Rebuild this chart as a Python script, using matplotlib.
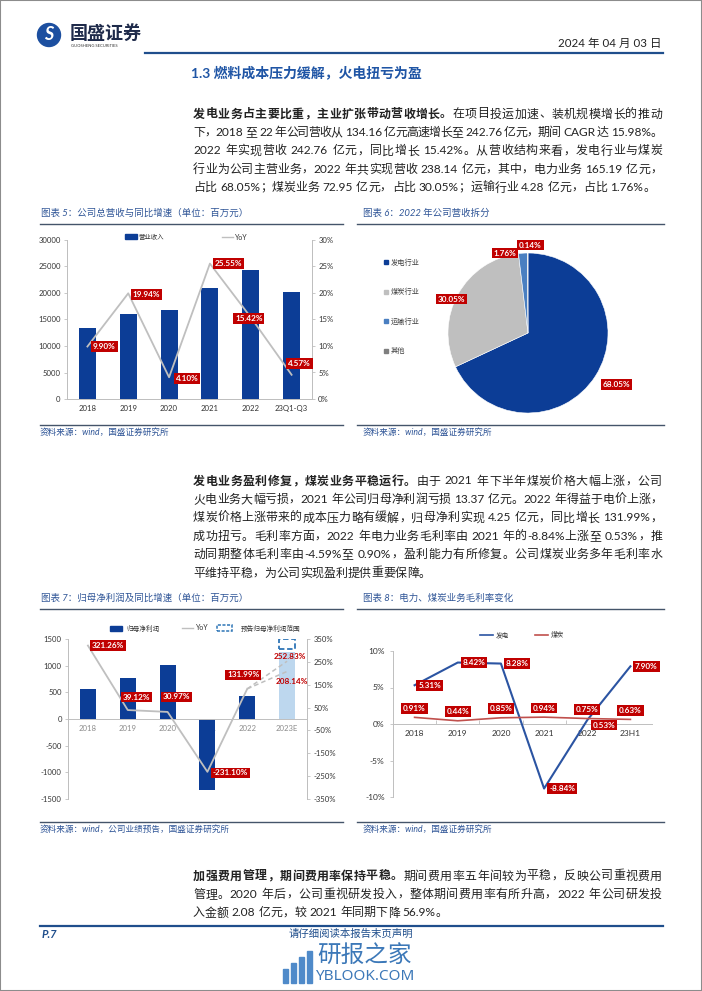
import re
import matplotlib
matplotlib.use('Agg')
import matplotlib.pyplot as plt
from matplotlib.patches import Rectangle, Circle
from matplotlib.lines import Line2D
from matplotlib.transforms import IdentityTransform

plt.rcParams['font.family'] = ['Lato', 'Noto Sans CJK SC', 'DejaVu Sans']
plt.rcParams['axes.unicode_minus'] = False

# ---- chart data ----
# 图表5: 公司总营收与同比增速
rev_years = ['2018', '2019', '2020', '2021', '2022', '23Q1-Q3']
revenue = [13416, 16090, 16750, 21030, 24276, 20250]
rev_yoy = [9.90, 19.94, 4.10, 25.55, 15.42, 4.57]

# 图表6: 2022年公司营收拆分
seg_names = ['发电行业', '煤炭行业', '运输行业', '其他']
seg_share = [68.05, 30.05, 1.76, 0.14]

# 图表7: 归母净利润及同比增速
np_years = ['2018', '2019', '2020', '2021', '2022', '2023E']
net_profit = [560, 770, 1010, -1337, 425]
np_forecast = 1250
np_range = [1310, 1500]
np_yoy = [321.26, 39.12, 30.97, -231.10, 131.99]
np_yoy_forecast = [252.83, 208.14]

# 图表8: 电力、煤炭业务毛利率变化
gm_years = ['2018', '2019', '2020', '2021', '2022', '23H1']
gm_power = [5.31, 8.42, 8.28, -8.84, 0.53, 7.90]
gm_coal = [0.91, 0.44, 0.85, 0.94, 0.75, 0.63]

BLUE = '#0C3D96'
LBLUE = '#4A7FC1'
GRAY = '#BFBFBF'
RED = '#C00000'
TITLE = '#2F5597'
HEAD = '#1F4E8C'
TXT = '#222222'
BODY = ['Lato', 'Noto Sans CJK SC']

W, H = 702, 991
fig = plt.figure(figsize=(W / 100, H / 100), dpi=100)
renderer = fig.canvas.get_renderer()


def fx(x):
    return x / W


def fy(y):
    return 1 - y / H


def add_ax(l, t, r, b):
    return fig.add_axes([fx(l), fy(b), (r - l) / W, (b - t) / H])


def put(x, y, s, **kw):
    kw.setdefault('va', 'center')
    return fig.text(fx(x), fy(y), s, **kw)


def hline(x0, x1, y, **kw):
    fig.add_artist(Line2D([fx(x0), fx(x1)], [fy(y), fy(y)], transform=fig.transFigure, **kw))


def box(x, y, w, h, **kw):
    fig.add_artist(Rectangle((fx(x), fy(y + h)), w / W, h / H, transform=fig.transFigure, **kw))


# ---- justified paragraph lines ----
_wcache = {}


def tok_width(tok, bold, size):
    if tok == ' ':
        return 3.2
    key = (tok, bold, size)
    if key not in _wcache:
        kw = dict(fontsize=size, family=BODY, weight='bold' if bold else 'normal')
        a = fig.text(0, 0, tok + '中', **kw)
        b = fig.text(0, 0, '中', **kw)
        _wcache[key] = a.get_window_extent(renderer).width - b.get_window_extent(renderer).width
        a.remove()
        b.remove()
    return _wcache[key]


def para_line(y, parts, justify=True, x0=193, x1=662, size=8.6):
    toks = []
    for s, bold in parts:
        for tok in re.findall(r'[A-Za-z0-9.%\-]+| |.', s):
            toks.append((tok, bold))
    widths = [tok_width(t, b, size) for t, b in toks]
    extra = 0
    if justify and len(toks) > 1:
        extra = (x1 - x0 - sum(widths)) / (len(toks) - 1)
    x = x0
    for (tok, bold), w in zip(toks, widths):
        if tok != ' ':
            put(x, y, tok, fontsize=size, family=BODY, color=TXT,
                weight='bold' if bold else 'normal', ha='left')
        x += w + extra


def paragraph(y0, lines, step=18.4):
    for i, parts in enumerate(lines):
        para_line(y0 + i * step, parts, justify=(i < len(lines) - 1))


# ---- page frame, header ----
fig.add_artist(Rectangle((0, 0), 1, 1, transform=fig.transFigure, fill=False,
                         edgecolor='#8C8C8C', lw=1.5))
fig.add_artist(Circle((49, H - 35), 11.5, transform=IdentityTransform(), color='#1C4FA0'))
put(49, 35, 'S', fontsize=13, color='white', weight='bold', style='italic', ha='center')
put(70, 33, '国盛证券', fontsize=13, weight='bold', color='#1E2A4A', ha='left',
    family=['Noto Sans CJK SC'])
put(71, 46, 'GUOSHENG SECURITIES', fontsize=3, color='#333333', ha='left')
put(661, 43, '2024 年 04 月 03 日', fontsize=8.3, color=TXT, ha='right', family=BODY)
hline(145, 663, 53, color=HEAD, lw=1.6)
put(191, 72, '1.3 燃料成本压力缓解，火电扭亏为盈', fontsize=10, weight='bold',
    color='#1F55A5', ha='left', family=BODY)

paragraph(114, [
    [('发电业务占主要比重，主业扩张带动营收增长。', True), ('在项目投运加速、装机规模增长的推动', False)],
    [('下，2018 至 22 年公司营收从 134.16 亿元高速增长至 242.76 亿元，期间 CAGR 达 15.98%。', False)],
    [('2022 年实现营收 242.76 亿元，同比增长 15.42%。从营收结构来看，发电行业与煤炭', False)],
    [('行业为公司主营业务，2022 年共实现营收 238.14 亿元，其中，电力业务 165.19 亿元，', False)],
    [('占比 68.05%；煤炭业务 72.95 亿元，占比 30.05%；运输行业 4.28 亿元，占比 1.76%。', False)],
])
paragraph(481, [
    [('发电业务盈利修复，煤炭业务平稳运行。', True), ('由于 2021 年下半年煤炭价格大幅上涨，公司', False)],
    [('火电业务大幅亏损，2021 年公司归母净利润亏损 13.37 亿元。2022 年得益于电价上涨，', False)],
    [('煤炭价格上涨带来的成本压力略有缓解，归母净利实现 4.25 亿元，同比增长 131.99%，', False)],
    [('成功扭亏。毛利率方面，2022 年电力业务毛利率由 2021 年的-8.84%上涨至 0.53%，推', False)],
    [('动同期整体毛利率由-4.59%至 0.90%，盈利能力有所修复。公司煤炭业务多年毛利率水', False)],
    [('平维持平稳，为公司实现盈利提供重要保障。', False)],
])
paragraph(876, [
    [('加强费用管理，期间费用率保持平稳。', True), ('期间费用率五年间较为平稳，反映公司重视费用', False)],
    [('管理。2020 年后，公司重视研发投入，整体期间费用率有所升高，2022 年公司研发投', False)],
    [('入金额 2.08 亿元，较 2021 年同期下降 56.9%。', False)],
])

# ---- chart titles / sources ----
tkw = dict(fontsize=6.8, color=TITLE, style='italic', ha='left', family=BODY)
put(41, 213, '图表 5：公司总营收与同比增速（单位：百万元）', **tkw)
put(363, 213, '图表 6：2022 年公司营收拆分', **tkw)
put(41, 598, '图表 7：归母净利润及同比增速（单位：百万元）', **tkw)
put(363, 598, '图表 8：电力、煤炭业务毛利率变化', **tkw)
for y in (224, 609, 425, 822):
    hline(40, 343, y, color='#44546A', lw=1.0)
    hline(357, 664, y, color='#44546A', lw=1.0)
skw = dict(fontsize=6.2, color=TITLE, style='italic', ha='left', family=BODY)
put(40, 432, '资料来源：wind，国盛证券研究所', **skw)
put(363, 432, '资料来源：wind，国盛证券研究所', **skw)
put(40, 829, '资料来源：wind，公司业绩预告，国盛证券研究所', **skw)
put(363, 829, '资料来源：wind，国盛证券研究所', **skw)


def tag(ax, x, y, s, dx, dy, boxed=True):
    kw = dict(fontsize=5.9, fontweight='bold', ha='center', va='center')
    if boxed:
        kw.update(color='white', bbox=dict(boxstyle='square,pad=0.22', fc=RED, ec='none'))
    else:
        kw.update(color=RED)
    ax.annotate(s, (x, y), xytext=(dx * 0.72, dy * 0.72), textcoords='offset points',
                zorder=6, annotation_clip=False, **kw)


def style_axis(ax, size=5.6, color='#333333'):
    ax.tick_params(labelsize=size, labelcolor=color, length=2, width=0.6, color='#BFBFBF', pad=2.5)
    for s in ax.spines.values():
        s.set_color('#BFBFBF')
        s.set_linewidth(0.7)


# ---- chart 5 ----
ax5 = add_ax(67, 240, 312, 399)
x5 = list(range(len(rev_years)))
ax5.bar(x5, revenue, width=0.42, color=BLUE, zorder=2)
ax5.set_xlim(-0.5, len(rev_years) - 0.5)
ax5.set_ylim(0, 30000)
ax5.set_yticks(range(0, 30001, 5000))
ax5.set_xticks(x5)
ax5.set_xticklabels(rev_years)
style_axis(ax5)
ax5.spines['top'].set_visible(False)
ax5.tick_params(axis='x', length=0, pad=4.5)
ax5r = ax5.twinx()
ax5r.plot(x5, rev_yoy, color=GRAY, lw=1.3)
ax5r.set_ylim(0, 30)
ax5r.set_yticks(range(0, 31, 5))
ax5r.set_yticklabels([f'{v}%' for v in range(0, 31, 5)])
style_axis(ax5r)
ax5r.spines['top'].set_visible(False)
off5 = [(17, 0), (18, -1), (18, -1), (19, 0), (-2, -1), (8, 11)]
for i, v in enumerate(rev_yoy):
    tag(ax5r, i, v, f'{v:.2f}%', *off5[i])
box(125, 234, 12, 5, color=BLUE)
put(139, 237, '营业收入', fontsize=4.6, color='#333333', ha='left')
hline(222, 233, 237, color=GRAY, lw=1.0)
put(235, 237, 'YoY', fontsize=5, color='#333333', ha='left')

# ---- chart 6 ----
ax6 = add_ax(448, 253, 608, 413)
ax6.pie(seg_share, colors=[BLUE, GRAY, LBLUE, '#7F7F7F'], startangle=90,
        counterclock=False, radius=1, wedgeprops=dict(linewidth=0.4, edgecolor='white'))
ax6.set_xlim(-1, 1)
ax6.set_ylim(-1, 1)
pie_label_xy = [(1.11, -0.64), (-0.96, 0.425), (-0.29, 1.0), (0.03, 1.1)]
for (lx, ly), v in zip(pie_label_xy, seg_share):
    ax6.text(lx, ly, f'{v:.2f}%', fontsize=5.9, fontweight='bold', color='white', ha='center',
             va='center', zorder=6, clip_on=False,
             bbox=dict(boxstyle='square,pad=0.22', fc=RED, ec='none'))
for i, (name, c) in enumerate(zip(seg_names, [BLUE, GRAY, LBLUE, '#7F7F7F'])):
    y = 262 + i * 29.6
    box(384, y - 2, 4, 4, color=c)
    put(391, y, name, fontsize=5.2, color='#404040', ha='left')

# ---- chart 7 ----
ax7 = add_ax(68, 639, 307, 799)
x7 = list(range(len(np_years)))
ax7.bar(x7[:-1], net_profit, width=0.4, color=BLUE, zorder=2)
ax7.bar(x7[-1], np_forecast, width=0.4, color='#BDD7EE', zorder=2)
ax7.bar(x7[-1], np_range[1] - np_range[0], bottom=np_range[0], width=0.42, fill=False,
        linestyle=(0, (3, 1.5)), edgecolor='#2E75B6', lw=1.3, zorder=3)
ax7.set_xlim(-0.5, len(np_years) - 0.5)
ax7.set_ylim(-1500, 1500)
ax7.set_yticks(range(-1500, 1501, 500))
ax7.set_xticks(x7)
ax7.set_xticklabels(np_years)
style_axis(ax7)
ax7.spines['top'].set_visible(False)
ax7.spines['bottom'].set_position(('data', 0))
ax7.tick_params(axis='x', length=0, pad=4, labelcolor='#8C8C8C')
ax7r = ax7.twinx()
ax7r.plot(x7[:-1], np_yoy, color=GRAY, lw=1.3)
for v in np_yoy_forecast:
    ax7r.plot([x7[-2], x7[-1]], [np_yoy[-1], v], color=GRAY, lw=1.1, ls=(0, (3, 2)))
ax7r.set_ylim(-350, 350)
ax7r.set_yticks(range(-350, 351, 100))
ax7r.set_yticklabels([f'{v}%' for v in range(-350, 351, 100)])
style_axis(ax7r)
ax7r.spines['top'].set_visible(False)
ax7r.spines['bottom'].set_visible(False)
off7 = [(20, 0), (9, 13), (9, 15), (23, -1), (-4, 14)]
for i, v in enumerate(np_yoy):
    tag(ax7r, i, v, f'{v:.2f}%', *off7[i])
tag(ax7r, x7[-1], np_yoy_forecast[0], f'{np_yoy_forecast[0]:.2f}%', 3, 5, boxed=False)
tag(ax7r, x7[-1], np_yoy_forecast[1], f'{np_yoy_forecast[1]:.2f}%', 5, -10, boxed=False)
box(110, 626, 12, 5, color=BLUE)
put(126, 628, '归母净利润', fontsize=4.8, color='#333333', ha='left')
hline(182, 193, 628, color=GRAY, lw=1.0)
put(196, 628, 'YoY', fontsize=5, color='#333333', ha='left')
box(217, 625, 15, 6, fill=False, edgecolor='#2E75B6', lw=1.1, linestyle=(0, (2, 1)))
put(241, 628, '预告归母净利润范围', fontsize=4.8, color='#333333', ha='left')

# ---- chart 8 ----
ax8 = add_ax(393, 651, 652, 797)
x8 = list(range(len(gm_years)))
ax8.plot(x8, gm_power, color='#2B54A2', lw=1.5, zorder=3)
ax8.plot(x8, gm_coal, color='#C0504D', lw=1.2, zorder=3)
ax8.set_xlim(-0.5, len(gm_years) - 0.5)
ax8.set_ylim(-10, 10)
ax8.set_yticks(range(-10, 11, 5))
ax8.set_yticklabels([f'{v}%' for v in range(-10, 11, 5)])
ax8.set_xticks(x8)
ax8.set_xticklabels(gm_years)
ax8.set_xticks([i + 0.5 for i in x8[:-1]], minor=True)
style_axis(ax8, size=6)
for s in ('top', 'right'):
    ax8.spines[s].set_visible(False)
ax8.spines['bottom'].set_position(('data', 0))
ax8.tick_params(axis='x', which='major', length=0, pad=4.5)
ax8.tick_params(axis='x', which='minor', length=3, direction='in', color='#BFBFBF')
ax8.tick_params(axis='y', pad=4)
off8p = [(15, 0), (16, 0), (16, 0), (18, 0), (17, -5), (16, 0)]
for i, v in enumerate(gm_power):
    tag(ax8, i, v, f'{v:.2f}%', *off8p[i])
for i, v in enumerate(gm_coal):
    tag(ax8, i, v, f'{v:.2f}%', 0, 9)
hline(480, 493, 635, color='#2B54A2', lw=1.2)
put(496, 635, '发电', fontsize=4.8, color='#333333', ha='left')
hline(535, 548, 635, color='#C0504D', lw=1.2)
put(551, 635, '煤炭', fontsize=4.8, color='#333333', ha='left')

# ---- footer ----
hline(40, 663, 926, color=HEAD, lw=1.6)
put(42, 935, 'P.7', fontsize=8, weight='bold', style='italic', color=HEAD, ha='left')
put(351, 934, '请仔细阅读本报告末页声明', fontsize=7.5, style='italic', color=HEAD,
    ha='center', family=BODY)
for i, h in enumerate([14, 20, 26, 32]):
    box(283 + i * 8, 983 - h, 5, h, color='#4F8AC9')
put(365, 955, '研报之家', fontsize=17, color='#3C78B8', ha='center', family=['Noto Sans CJK SC'])
put(365, 977, 'YBLOOK.COM', fontsize=11, color='#3C78B8', ha='center', family=['Noto Sans'])

fig.savefig('out.png', dpi=100)
